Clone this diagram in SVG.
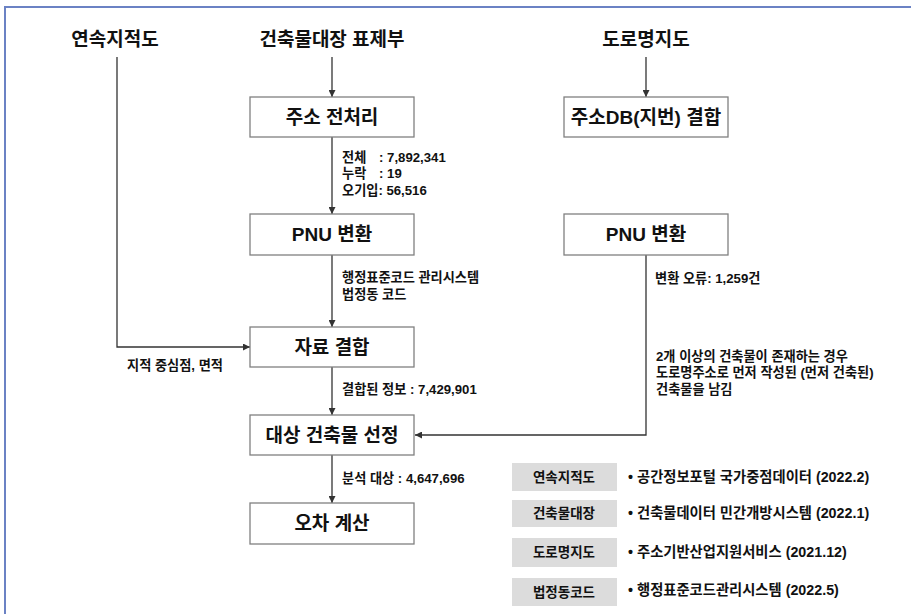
<svg xmlns="http://www.w3.org/2000/svg" width="911" height="614" viewBox="0 0 911 614">
<defs>
<style>
text{font-family:"Liberation Sans","Noto Sans CJK KR",sans-serif;fill:#111}
.title{font-size:19px;font-weight:bold;text-anchor:middle}
.box rect{fill:#fff;stroke:#808080;stroke-width:1.3}
.box text{font-size:19px;font-weight:bold;text-anchor:middle}
.lbl{font-size:13.2px;font-weight:bold}
.conn path{fill:none;stroke:#333;stroke-width:1.3}
.leg rect{fill:#dcdcdc}
.legk{font-size:13.5px;font-weight:bold;text-anchor:middle}
.legt{font-size:14.3px;font-weight:bold;text-anchor:start}
</style>
<marker id="ah" viewBox="0 0 10 10" refX="10" refY="5" markerWidth="7" markerHeight="7" markerUnits="userSpaceOnUse" orient="auto">
<path d="M0,0 L10,5 L0,10 z" fill="#333"/>
</marker>
</defs>
<rect width="911" height="614" fill="#fff"/>
<path d="M5,614 V7 H911" fill="none" stroke="#6b82c4" stroke-width="2"/>

<g id="t1"><text class="title" x="115" y="46">연속지적도</text></g>
<g id="t2"><text class="title" x="332" y="46">건축물대장 표제부</text></g>
<g id="t3"><text class="title" x="646" y="46">도로명지도</text></g>

<g class="conn" id="connectors">
<path d="M332,57 V97" marker-end="url(#ah)"/>
<path d="M332,137 V214" marker-end="url(#ah)"/>
<path d="M332,255 V327" marker-end="url(#ah)"/>
<path d="M332,367 V415" marker-end="url(#ah)"/>
<path d="M332,455 V503" marker-end="url(#ah)"/>
<path d="M117,57 V347 H250" marker-end="url(#ah)"/>
<path d="M646,57 V97" marker-end="url(#ah)"/>
<path d="M646,255 V435 H415" marker-end="url(#ah)"/>
</g>

<g id="n1" class="box"><rect x="250" y="97" width="164" height="40"/><text x="332" y="124">주소 전처리</text></g>
<g id="n2" class="box"><rect x="250" y="214" width="164" height="41"/><text x="332" y="241">PNU 변환</text></g>
<g id="n3" class="box"><rect x="250" y="327" width="164" height="40"/><text x="332" y="354">자료 결합</text></g>
<g id="n4" class="box"><rect x="250" y="415" width="164" height="40"/><text x="332" y="442">대상 건축물 선정</text></g>
<g id="n5" class="box"><rect x="250" y="503" width="164" height="41"/><text x="332" y="530">오차 계산</text></g>
<g id="n6" class="box"><rect x="564" y="97" width="164" height="40"/><text x="646" y="124">주소DB(지번) 결합</text></g>
<g id="n7" class="box"><rect x="564" y="214" width="164" height="41"/><text x="646" y="241">PNU 변환</text></g>

<g id="labels">
<text class="lbl" x="342" y="161.5">전체<tspan x="379">: 7,892,341</tspan></text>
<text class="lbl" x="342" y="178">누락<tspan x="379">: 19</tspan></text>
<text class="lbl" x="342" y="195">오기입: 56,516</text>
<text class="lbl" x="342" y="282">행정표준코드 관리시스템</text>
<text class="lbl" x="342" y="298.5">법정동 코드</text>
<text class="lbl" x="127" y="369.5">지적 중심점, 면적</text>
<text class="lbl" x="342" y="393.5">결합된 정보 : 7,429,901</text>
<text class="lbl" x="342" y="482.5">분석 대상 : 4,647,696</text>
<text class="lbl" x="655" y="282.5">변환 오류: 1,259건</text>
<text class="lbl" x="656" y="360.5">2개 이상의 건축물이 존재하는 경우</text>
<text class="lbl" x="656" y="377">도로명주소로 먼저 작성된 (먼저 건축된)</text>
<text class="lbl" x="656" y="394">건축물을 남김</text>
</g>

<g id="legend" class="leg">
<rect x="512" y="463" width="105" height="28"/><text class="legk" x="564" y="481.5">연속지적도</text>
<rect x="512" y="500" width="105" height="27"/><text class="legk" x="564" y="518">건축물대장</text>
<rect x="512" y="538" width="105" height="29"/><text class="legk" x="564" y="557">도로명지도</text>
<rect x="512" y="578" width="105" height="28"/><text class="legk" x="564" y="596.5">법정동코드</text>
<text class="legt" x="628" y="481.5">• 공간정보포털 국가중점데이터 (2022.2)</text>
<text class="legt" x="628" y="518">• 건축물데이터 민간개방시스템 (2022.1)</text>
<text class="legt" x="628" y="556.5">• 주소기반산업지원서비스 (2021.12)</text>
<text class="legt" x="628" y="595">• 행정표준코드관리시스템 (2022.5)</text>
</g>
</svg>
